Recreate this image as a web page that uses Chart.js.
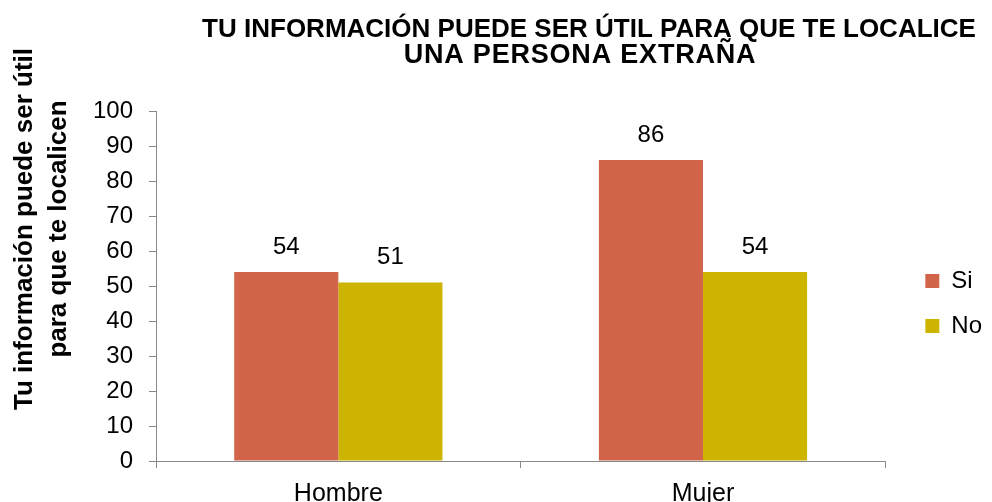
<!DOCTYPE html>
<html>
<head>
<meta charset="utf-8">
<script src="https://cdn.jsdelivr.net/npm/chart.js@4/dist/chart.umd.min.js"></script>
<style>
html,body{margin:0;padding:0;background:#fff}
#wrap{width:992px;height:502px}
</style>
</head>
<body>
<div id="wrap"><canvas id="c" width="992" height="502"></canvas></div>
<script>
var categories = ['Hombre', 'Mujer'];
var siValues = [54, 86];
var noValues = [51, 54];
var seriesNames = ['Si', 'No'];
var yTicks = [0, 10, 20, 30, 40, 50, 60, 70, 80, 90, 100];
var titleLines = ['TU INFORMACIÓN PUEDE SER ÚTIL PARA QUE TE LOCALICE', 'UNA PERSONA EXTRAÑA'];
var yTitleLines = ['Tu información puede ser útil', 'para que te localicen'];

var FONT = '"Liberation Sans", Arial, sans-serif';
var axisGray = '#898989';

// titles and value labels drawn on the canvas
var extras = {
  id: 'extras',
  afterLayout: function(chart) {
    // legend sits a bit away from the plot, like in the excel original
    var lg = chart.legend;
    lg.left += 19; lg.right += 19;
    lg.top -= 3; lg.bottom -= 3;
  },
  afterDatasetsDraw: function(chart) {
    var ctx = chart.ctx;
    ctx.save();
    ctx.font = '24px ' + FONT;
    ctx.fillStyle = '#000';
    ctx.textAlign = 'center';
    ctx.textBaseline = 'middle';
    chart.data.datasets.forEach(function(ds, i) {
      chart.getDatasetMeta(i).data.forEach(function(bar, j) {
        ctx.fillText(String(ds.data[j]), bar.x, bar.y - 25);
      });
    });
    ctx.restore();
  },
  afterDraw: function(chart) {
    var ctx = chart.ctx;
    ctx.save();
    ctx.fillStyle = '#000';
    ctx.textAlign = 'center';
    ctx.textBaseline = 'alphabetic';
    ctx.font = 'bold 26px ' + FONT;
    ctx.fillText(titleLines[0], 589, 37);
    ctx.font = 'bold 27px ' + FONT;
    ctx.letterSpacing = '0.8px';
    ctx.fillText(titleLines[1], 580, 63);
    ctx.letterSpacing = '0px';
    // y axis title, rotated
    ctx.font = 'bold 26px ' + FONT;
    ctx.translate(0, 229);
    ctx.rotate(-Math.PI / 2);
    ctx.textBaseline = 'middle';
    ctx.fillText(yTitleLines[0], 0, 25);
    ctx.fillText(yTitleLines[1], 0, 59);
    ctx.restore();
  }
};

new Chart(document.getElementById('c'), {
  type: 'bar',
  data: {
    labels: categories,
    datasets: [
      {label: seriesNames[0], data: siValues, backgroundColor: '#D2644A', categoryPercentage: 0.571, barPercentage: 1.0},
      {label: seriesNames[1], data: noValues, backgroundColor: '#CCB400', categoryPercentage: 0.571, barPercentage: 1.0}
    ]
  },
  options: {
    responsive: false,
    animation: false,
    layout: {padding: {top: 111, right: 19, bottom: 0, left: 0}},
    plugins: {
      title: {display: false},
      tooltip: {enabled: false},
      legend: {
        position: 'right',
        labels: {boxWidth: 14, boxHeight: 14, padding: 21, color: '#000', font: {family: FONT, size: 24}}
      }
    },
    scales: {
      x: {
        grid: {display: true, drawOnChartArea: false, drawTicks: true, tickLength: 7, color: axisGray},
        border: {display: true, color: axisGray, width: 1},
        ticks: {color: '#000', padding: 11, font: {family: FONT, size: 25}},
        afterFit: function(s) { s.height = 41; }
      },
      y: {
        min: 0,
        max: 100,
        afterBuildTicks: function(s) { s.ticks = yTicks.map(function(v){ return {value: v}; }); },
        grid: {display: true, drawOnChartArea: false, drawTicks: true, tickLength: 7, color: axisGray},
        border: {display: true, color: axisGray, width: 1},
        ticks: {color: '#000', padding: 16, font: {family: FONT, size: 24}},
        afterFit: function(s) { s.width = 156; }
      }
    }
  },
  plugins: [extras]
});
</script>
</body>
</html>
